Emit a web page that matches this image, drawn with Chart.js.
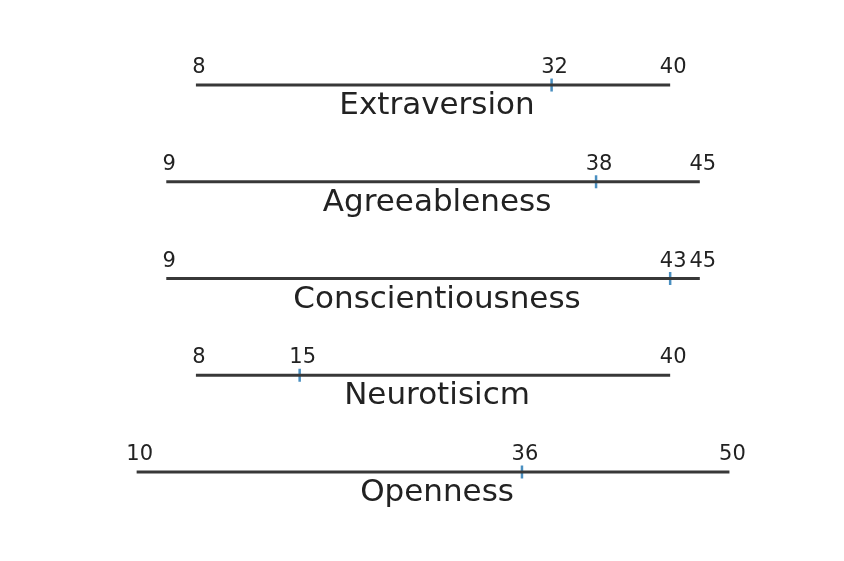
<!DOCTYPE html>
<html>
<head>
<meta charset="utf-8">
<script src="https://cdn.jsdelivr.net/npm/chart.js@4.4.0/dist/chart.umd.min.js"></script>
<style>
  body { margin: 0; background: #fff; }
  #wrap { width: 844px; height: 561px; }
</style>
</head>
<body>
<div id="wrap"><canvas id="chart" width="844" height="561"></canvas></div>
<script>
var traits = ['Extraversion', 'Agreeableness', 'Conscientiousness', 'Neurotisicm', 'Openness'];
var minScores = [8, 9, 9, 8, 10];
var maxScores = [40, 45, 45, 40, 50];
var scores = [32, 38, 43, 15, 36];

// every row is centred on x = 0
function mid(i) { return (minScores[i] + maxScores[i]) / 2; }

var datasets = traits.map(function (t, i) {
    return {
        label: t,
        data: [{ x: minScores[i] - mid(i), y: i }, { x: maxScores[i] - mid(i), y: i }],
        showLine: true,
        borderColor: '#383838',
        borderWidth: 3,
        pointRadius: 0
    };
});
datasets.push({
    label: 'score',
    data: scores.map(function (s, i) { return { x: s - mid(i), y: i }; }),
    pointStyle: 'line',
    rotation: 90,
    pointRadius: 6.5,
    borderColor: '#4a8fc0',
    borderWidth: 2.5
});

var labelPlugin = {
    id: 'labels',
    afterDatasetsDraw: function (chart) {
        var ctx = chart.ctx;
        var xs = chart.scales.x, ys = chart.scales.y;
        ctx.save();
        ctx.fillStyle = '#222';
        ctx.textAlign = 'center';
        ctx.textBaseline = 'alphabetic';
        traits.forEach(function (t, i) {
            var py = ys.getPixelForValue(i);
            ctx.font = '21px "DejaVu Sans"';
            [minScores[i], scores[i], maxScores[i]].forEach(function (v) {
                ctx.fillText(String(v), xs.getPixelForValue(v - mid(i)) + 3, py - 12);
            });
            ctx.font = '31px "DejaVu Sans"';
            ctx.fillText(t, xs.getPixelForValue(0) + 4, py + 29);
        });
        ctx.restore();
    }
};

new Chart(document.getElementById('chart').getContext('2d'), {
    type: 'scatter',
    data: { datasets: datasets },
    options: {
        responsive: false,
        animation: false,
        layout: { padding: 0, autoPadding: false },
        plugins: { legend: { display: false }, tooltip: { enabled: false } },
        scales: {
            x: { type: 'linear', display: false, min: -29.22, max: 27.73 },
            y: { type: 'linear', display: false, reverse: true, min: -0.879, max: 4.92 }
        }
    },
    plugins: [labelPlugin]
});
</script>
</body>
</html>
